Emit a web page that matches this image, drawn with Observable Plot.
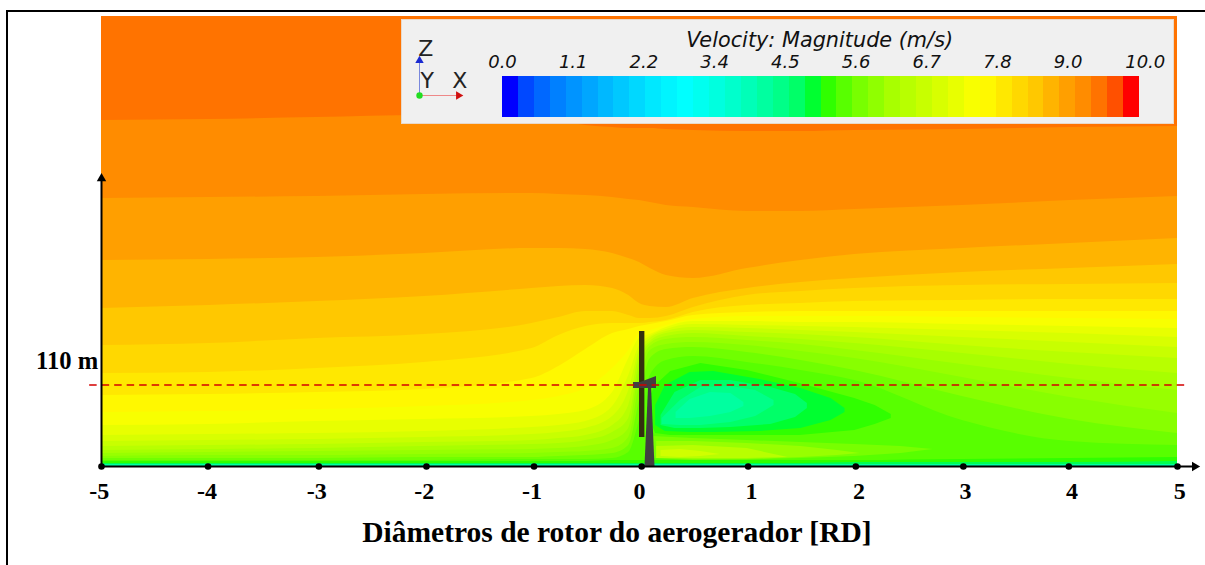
<!DOCTYPE html>
<html>
<head>
<meta charset="utf-8">
<script src="https://cdn.jsdelivr.net/npm/d3@7"></script>
<script src="https://cdn.jsdelivr.net/npm/@observablehq/plot@0.6"></script>
<style>
html,body{margin:0;padding:0;background:#fff;overflow:hidden;width:1205px;height:565px}
#root{position:relative;width:1205px;height:565px}
#root svg{position:absolute;background:none;max-width:none}
#frame{position:absolute;left:6px;top:10px;right:0;bottom:0;border-left:2px solid #000;border-top:2px solid #000;pointer-events:none}
#panel{position:absolute;left:401px;top:19px;width:773px;height:105px;background:#f0f0f0;border:1px solid #e9d9c9;box-sizing:border-box}
</style>
</head>
<body>
<div id="root"><div id="frame"></div></div>
<script>
// Stations along the wind direction, in rotor diameters
const stations = [-5,-4,-3,-2,-1,-.75,-.5,-.25,-.1,0,.1,.25,.5,1,1.5,2,3,4,5];
// Contour boundaries: height above ground of the top of each colour band (hub = 81, i.e. 110 m)
const band00 = [450,450,450,450,450,450,450,450,450,450,450,450,450,450,450,450,450,450,450];
const band01 = [346,347,349,351,348,345,341,339,338,338,338,337,336,335,335,336,337,339,340];
const band02 = [268,269,270,272,273,272,271,269,267,266,264,261,259,255,255,257,261,266,270];
const band03 = [206,207,209,213,218,218,217,213,208,204,198,191,188,198,206,212,218,223,228];
const band04 = [158,161,165,170,178,180,181,178,171,163,160,159,168,178,184,188,194,198,202];
const band05 = [121,123,128,132,143,149,155,155,151,148,148,150,159,171,175,178,181,182,183];
const band06 = [93,94,98,104,118,131,140,143,143,143,144,146,154,161,163,165,166,167,167];
const band07 = [71,72,74,77,88,100,117,133,137,140,142,145,151,154,155,155,155,155,155];
const band08 = [54,55,57,60,66,70,78,98,116,133,136,141,147,150,150,150,149,148,147];
const band09 = [41,42,45,47,50,52,56,74,108,128,132,139,145,145,144,144,142,140,138];
const band10 = [31,32,33,35,39,41,45,60,91,121,130,137,142,141,140,139,136,133,129];
const band11 = [25,26,27,29,32,34,38,50,76,116,128,135,139,138,136,134,129,124,119];
const band12 = [20,21,22,24,26,28,31,41,61,111,125,133,136,134,132,129,121,114,108];
const band13 = [16,17,18,20,22,23,26,34,48,104,123,130,133,130,127,123,113,102,93];
const band14 = [13,14,15,16,17,18,20,26,38,96,120,127,129,126,122,116,102,88,76];
const band15 = [10,11,11,12,13,14,15,18,29,81,116,122,124,121,115,108,89,69,53];
const band16 = [8,8,8,9,9,10,11,13,21,66,108,117,119,114,106,96,70,47,33];
const band17 = [6,6,6,6,7,7,7,8,14,46,91,106,110,104,96,86,46,25,21];
const ground1 = [5,5,5,5,5,5,5,6,6,6,6,6,6,6,6,6,7,8,9];
const ground2 = [3,3,3,3,3,3,3,3,3,3,3,3,3,3,3,4,4,4,5];
const ground3 = [2,2,2,2,2,2,2,2,2,2,2,2,2,2,2,2,2,2,2];
const bandColors = ["#ff7300","#ff8c00","#ff9f00","#ffb400","#ffc800","#ffd800","#ffe800","#fff800","#f8ff00","#e8ff00","#d8ff00","#c8ff00","#b8ff00","#a8ff00","#98ff00","#88ff00","#70ff00","#58ff00"];
const bands = [band00,band01,band02,band03,band04,band05,band06,band07,band08,band09,band10,band11,band12,band13,band14,band15,band16,band17];

// Wake: closed regions behind the rotor [x, top, bottom]
const wake1X=[.08,.15,.29,.57,1,1.49,2,2.19,2.34], wake1Top=[66,81,95,103,96,83,68,61,52], wake1Bot=[51,33,31,31,31,31,36,42,48];
const wake2X=[.15,.24,.47,.69,1.12,1.5,1.78,1.91], wake2Top=[61,81,94,95,87,78,68,58], wake2Bot=[41,35,34,34,35,38,46,54];
const wake3X=[.2,.33,.57,.85,1.22,1.45,1.56], wake3Top=[51,74,86,86,79,72,63], wake3Bot=[41,38,38,39,42,49,58];
const wake4X=[.21,.38,.57,.85,1.08,1.25], wake4Top=[48,66,79,80,76,66], wake4Bot=[42,41,41,44,50,61];
const wake5X=[.34,.47,.66,.85,.97], wake5Top=[54,67,74,73,64], wake5Bot=[48,48,50,54,60];
// Faster streak under the wake
const streak1X=[.12,.5,1,1.5,2,2.43,2.73], streak1Top=[30,28,26,24,22,20,17], streak1Bot=[8,6,6.5,8,10,13,17];
const streak2X=[.16,.5,1,1.5,1.84,2.05], streak2Top=[25,25,23,20,16,13], streak2Bot=[8,7,7,9,11,13];
const streak3X=[.16,.5,1,1.38], streak3Top=[20,21,18,9], streak3Bot=[8,8,8,9];
const streak4X=[.2,.38,.57,.75], streak4Top=[16,17,15,12], streak4Bot=[10,9,10,12];
const closed = [
  [wake1X,wake1Top,wake1Bot,"#30ff00"],[wake2X,wake2Top,wake2Bot,"#00ff30"],[wake3X,wake3Top,wake3Bot,"#00ff68"],
  [wake4X,wake4Top,wake4Bot,"#00ff88"],[wake5X,wake5Top,wake5Bot,"#00ffa0"],
  [streak1X,streak1Top,streak1Bot,"#78ff00"],[streak2X,streak2Top,streak2Bot,"#98ff00"],
  [streak3X,streak3Top,streak3Bot,"#b8ff00"],[streak4X,streak4Top,streak4Bot,"#d0ff00"]
];

// Turbine outline
const bladeX=[0,.05], bladeTop=[135,135], bladeBot=[29,29];
const towerX=[.051,.084,.112,.144], towerTop=[0,79,79,0];
const nacelleX=[-.056,.01,.158], nacelleTop=[84,84,90], nacelleBot=[78,78,78];

// Axes
const tickValues=[-5,-4.01,-2.98,-1.98,-.98,.02,1.01,2.01,3.01,3.99,5];
const tickLabels=["-5","-4","-3","-2","-1","0","1","2","3","4","5"];
const tickLabelAt=[-5.02,-4.02,-3,-2,-1,0,1.04,2.04,3.03,4.02,5.02];
const hubHeight=81.5;

const layer=(xs,top,bot,fill,curve)=>Plot.areaY(xs,{x:d=>d,y1:(d,i)=>bot?bot[i]:0,y2:(d,i)=>top[i],fill,curve});

const main=Plot.plot({
  width:1205,height:565,margin:0,
  x:{domain:[-5,5],range:[101,1177],axis:null},
  y:{domain:[0,450],range:[466,16],axis:null},
  marks:[
    ...bands.map((h,i)=>layer(stations,h,null,bandColors[i],"monotone-x")),
    ...closed.map(([x,t,b,c])=>layer(x,t,b,c,"linear")),
    layer(stations,ground1,null,"#30ff00","monotone-x"),
    layer(stations,ground2,null,"#00ff50","monotone-x"),
    layer(stations,ground3,null,"#00ffa0","monotone-x"),
    layer(bladeX,bladeTop,bladeBot,"#33300f","linear"),
    layer(towerX,towerTop,null,"#404040","linear"),
    layer(nacelleX,nacelleTop,nacelleBot,"#404040","linear"),
    Plot.ruleY([hubHeight],{x1:-5.11,x2:5.1,stroke:"#d40000",strokeWidth:1.6,strokeDasharray:"7.5 5"}),
    Plot.ruleX([-5],{y1:0,y2:288,stroke:"#000",strokeWidth:2}),
    Plot.ruleY([0],{x1:-5,x2:5.14,stroke:"#000",strokeWidth:2}),
    Plot.dot([{x:-5,y:288}],{x:"x",y:"y",symbol:"triangle2",r:4.5,fill:"#000",stroke:"none"}),
    Plot.dot([{x:5.16,y:0}],{x:"x",y:"y",symbol:"triangle2",r:4.5,fill:"#000",stroke:"none",rotate:90}),
    Plot.dot(tickValues,{x:d=>d,y:0,r:3.3,fill:"#000",stroke:"none"}),
    Plot.text(tickLabels,{x:(d,i)=>tickLabelAt[i],y:-24.5,text:d=>d,fontFamily:"Liberation Serif",fontWeight:"bold",fontSize:24,fill:"#000"}),
    Plot.text(["110 m"],{x:-5.03,y:105,text:d=>d,textAnchor:"end",fontFamily:"Liberation Serif",fontWeight:"bold",fontSize:24.6,fill:"#000"}),
    Plot.text(["Diâmetros de rotor do aerogerador [RD]"],{x:-.21,y:-66,text:d=>d,fontFamily:"Liberation Serif",fontWeight:"bold",fontSize:29.5,fill:"#000"})
  ]
});
main.style.left="0";main.style.top="0";
document.getElementById("root").prepend(main);

// Legend
const legendColors=["#0000ff","#0048ff","#0068ff","#0080ff","#0094ff","#00a6ff","#00b8ff","#00c8ff","#00d8ff","#00e8ff","#00f4ff","#00ffff","#00fff0","#00ffdf","#00ffcc","#00ffb8","#00ffa0","#00ff88","#00ff68","#00ff30","#30ff00","#58ff00","#78ff00","#90ff00","#a8ff00","#b8ff00","#c8ff00","#d8ff00","#e8ff00","#f8ff00","#fff800","#ffe800","#ffd800","#ffc800","#ffb400","#ff9f00","#ff8c00","#ff7300","#ff5000","#ff0000"];
const legendTickValues=[0,1.11,2.22,3.33,4.44,5.55,6.66,7.77,8.88,10.09];
const legendTickLabels=["0.0","1.1","2.2","3.4","4.5","5.6","6.7","7.8","9.0","10.0"];
const legendTitle="Velocity: Magnitude (m/s)";

const panel=document.createElement("div");panel.id="panel";
document.getElementById("root").append(panel);

const legend=Plot.plot({
  width:773,height:105,margin:0,
  x:{domain:[0,10],range:[101,738],axis:null},
  y:{domain:[0,1],range:[98,57],axis:null},
  color:{type:"identity"},
  marks:[
    Plot.rect(legendColors,{x1:(d,i)=>i*.25,x2:(d,i)=>(i+1)*.25,y1:0,y2:1,fill:d=>d,inset:0,shapeRendering:"crispEdges"}),
    Plot.text(legendTickLabels,{x:(d,i)=>legendTickValues[i],y:1,dy:-14,text:d=>d,fontFamily:"DejaVu Sans",fontStyle:"italic",fontSize:18,fill:"#111"}),
    Plot.text([legendTitle],{x:4.98,y:1,dy:-36,text:d=>d,fontFamily:"DejaVu Sans",fontStyle:"italic",fontSize:20.8,fill:"#111"})
  ]
});
legend.style.left="401px";legend.style.top="19px";
document.getElementById("root").append(legend);

// Orientation triad
const triad=Plot.plot({
  width:70,height:80,margin:0,
  x:{domain:[0,1],range:[14,53],axis:null},
  y:{domain:[0,1],range:[67,32],axis:null},
  marks:[
    Plot.ruleX([0],{y1:0,y2:1,stroke:"#7a88dd",strokeWidth:1}),
    Plot.ruleY([0],{x1:0,x2:1,stroke:"#ee8888",strokeWidth:1}),
    Plot.dot([{x:0,y:1}],{x:"x",y:"y",symbol:"triangle2",r:4,fill:"#1a2ad0",stroke:"none"}),
    Plot.dot([{x:1,y:0}],{x:"x",y:"y",symbol:"triangle2",r:4,fill:"#d01010",stroke:"none",rotate:90}),
    Plot.dot([{x:0,y:0}],{x:"x",y:"y",r:3.2,fill:"#22dd22",stroke:"none"}),
    Plot.text([["Z",.16,1.33],["Y",.2,.41],["X",1.03,.41]],{x:d=>d[1],y:d=>d[2],text:d=>d[0],fontFamily:"DejaVu Sans",fontSize:22,fill:"#222"})
  ]
});
triad.style.left="405px";triad.style.top="28px";triad.style.overflow="visible";
document.getElementById("root").append(triad);
</script>
</body>
</html>
